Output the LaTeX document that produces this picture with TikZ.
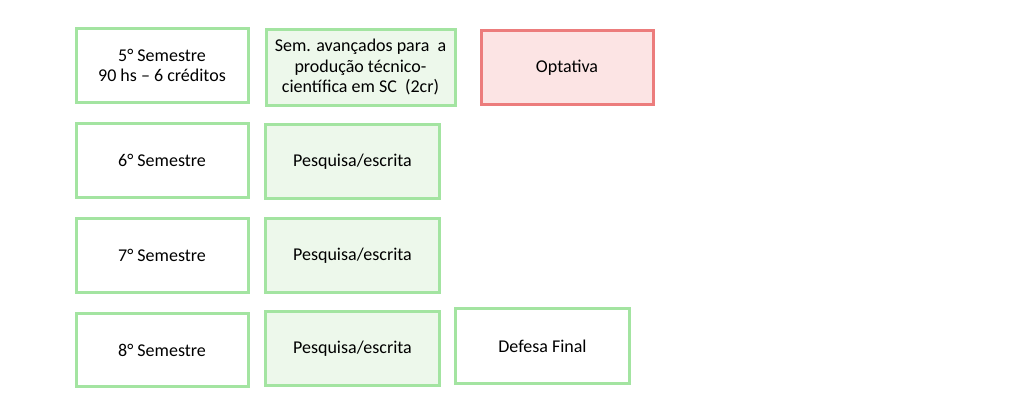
\documentclass[tikz,border=0pt]{standalone}
\usepackage{fontspec}
\setmainfont{Carlito}
\usepackage{xcolor}
\usetikzlibrary{positioning}
\definecolor{boxgreen}{RGB}{163,228,161}
\definecolor{fillgreen}{RGB}{237,248,235}
\definecolor{boxred}{RGB}{236,124,124}
\definecolor{fillred}{RGB}{252,228,228}
\tikzset{
  sem/.style={draw=boxgreen, line width=2.25pt, fill=white, align=center,
    minimum width=129pt, minimum height=55pt, font=\fontsize{13.5}{15.6}\selectfont},
  task/.style={sem, fill=fillgreen, minimum width=130pt},
  optbox/.style={sem, draw=boxred, fill=fillred}
}
\begin{document}
\begin{tikzpicture}[x=0.75pt, y=-0.75pt]
			% Page frame
			\useasboundingbox (0,0) rectangle (1019,404);
			
			% Semesters
			\node[sem] (s5) at (162,65.5) {5° Semestre\\90 hs – 6 créditos};
			\node[sem] (s6) at (162,160.5) {6° Semestre};
			\node[sem] (s7) at (162,255.5) {7° Semestre};
			\node[sem] (s8) at (162,350) {8° Semestre};
			
			% Activities
			\node[task, minimum width=141.75pt, minimum height=57pt, inner sep=1pt] (sem) at (360.5,67) {Sem. avançados para\ \ a\\produção técnico-\\científica em SC\ \ (2cr)};
			\node[task] (p6) at (352.5,161.5) {Pesquisa/escrita};
			\node[task] (p7) at (352.5,255.5) {Pesquisa/escrita};
			\node[task] (p8) at (352.5,348.5) {Pesquisa/escrita};
			\node[optbox] (opt) at (567,67.5) {Optativa};
			\node[sem, minimum width=130pt, minimum height=56pt] (def) at (542.5,346) {Defesa Final};
		\end{tikzpicture}
\end{document}
